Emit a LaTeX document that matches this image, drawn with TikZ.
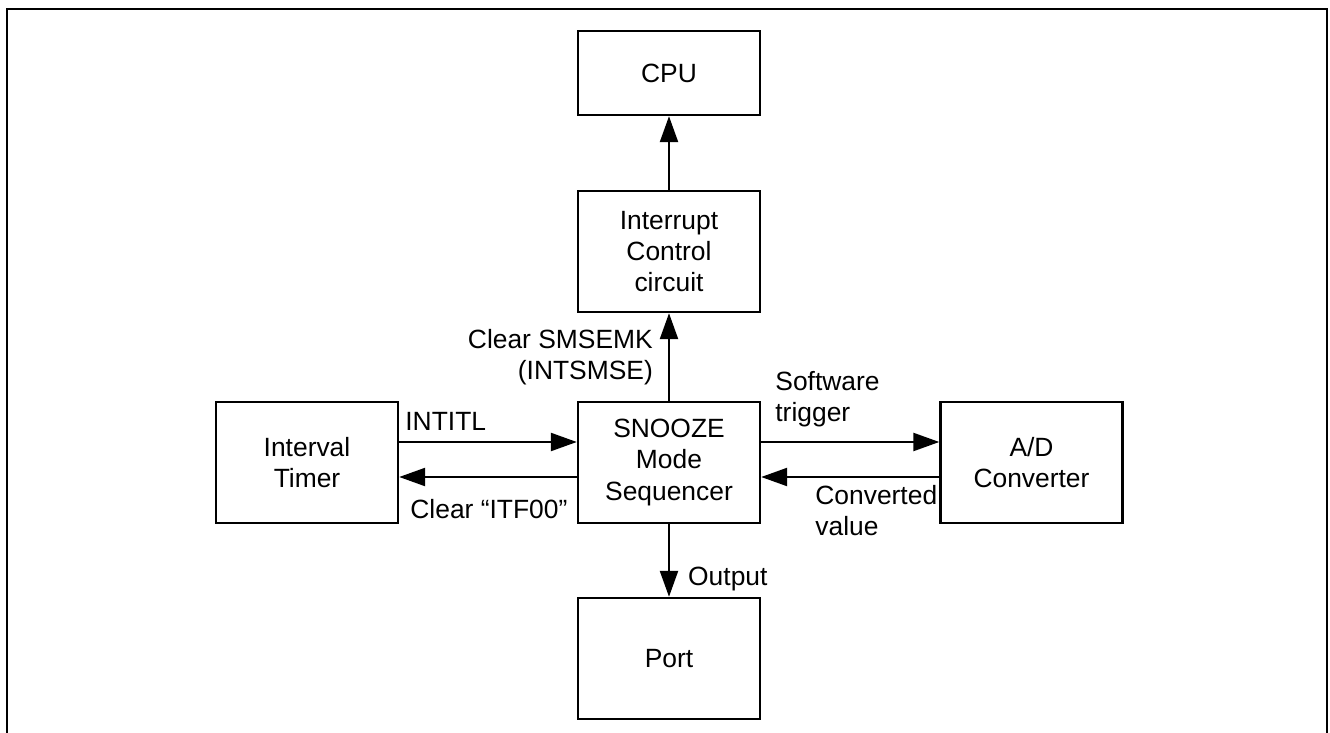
\documentclass[tikz,border=0pt]{standalone}
\usepackage{fontspec}
\setmainfont{Liberation Sans}
\usetikzlibrary{arrows.meta,positioning}

\begin{document}
\begin{tikzpicture}[x=0.5pt,y=-0.5pt,
    font=\fontsize{13.2}{15.7}\selectfont,
    blk/.style={draw, line width=1.2pt, minimum width=91pt, minimum height=60.5pt, inner sep=0pt, align=center},
    sig/.style={-{Triangle[length=13pt,width=9pt]}, line width=1.2pt},
    lbl/.style={inner sep=0pt, align=left}]
% Outer frame (open at the bottom)
\useasboundingbox (0,0) rectangle (1330,733);
\draw[line width=1.1pt] (7,733) -- (7,9) -- (1327,9) -- (1327,733);
% Blocks
\node[blk, minimum height=42pt] (cpu) at (669,73) {CPU};
\node[blk] (intc) at (669,251.5) {Interrupt\\Control\\circuit};
\node[blk] (snooze) at (669,462.5) {SNOOZE\\Mode\\Sequencer};
\node[blk] (timer) at (307,462.5) {Interval\\Timer};
\node[blk] (adc) at (1031.5,462.5) {A/D\\Converter};
\node[blk] (port) at (669,658.5) {Port};
% Signals
\draw[sig] (intc) -- (cpu);
\draw[sig] (snooze) -- node[lbl, left, align=right, xshift=-7.5pt]{Clear SMSEMK\\(INTSMSE)} (intc);
\draw[sig] ([yshift=10.25pt]timer.east) -- node[pos=0, lbl, anchor=base west, xshift=2.5pt, yshift=6pt]{INTITL} ([yshift=10.25pt]snooze.west);
\draw[sig] ([yshift=-7.25pt]snooze.west) -- node[pos=1, lbl, anchor=base west, xshift=5pt, yshift=-20.5pt]{Clear “ITF00”} ([yshift=-7.25pt]timer.east);
\draw[sig] ([yshift=10.25pt]snooze.east) -- node[pos=0, lbl, anchor=south west, xshift=6.5pt, yshift=6.75pt]{Software\\trigger} ([yshift=10.25pt]adc.west);
\draw[sig] ([yshift=-7.25pt]adc.west) -- node[pos=1, lbl, anchor=north west, xshift=26.5pt, yshift=-3.5pt]{Converted\\value} ([yshift=-7.25pt]snooze.east);
\draw[sig] (snooze) -- node[pos=1, lbl, anchor=base west, xshift=9pt, yshift=5.5pt]{Output} (port);
\end{tikzpicture}
\end{document}
